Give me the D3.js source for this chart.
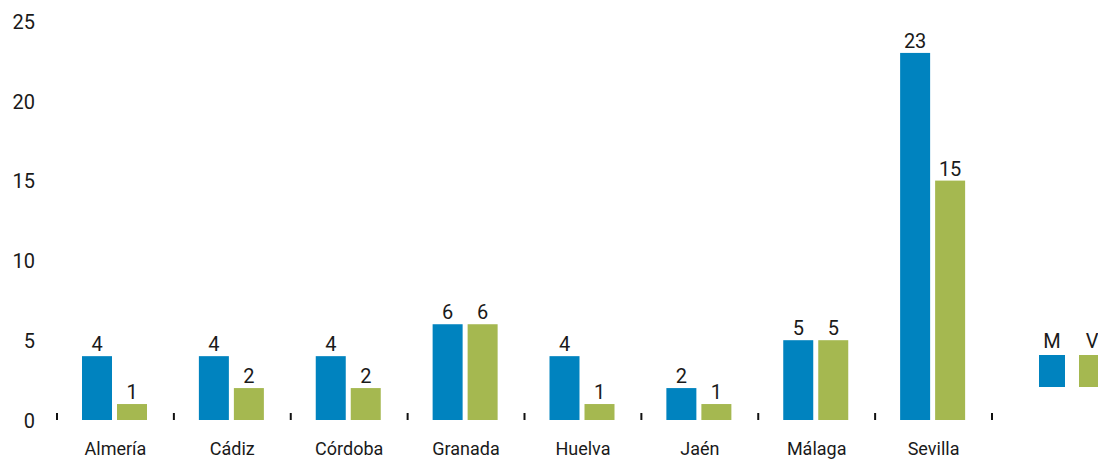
<!DOCTYPE html>
<html>
<head>
<meta charset="utf-8">
<script src="https://cdn.jsdelivr.net/npm/d3@7"></script>
<style>
  html, body { margin: 0; padding: 0; background: #fff; }
  svg { display: block; font-family: Roboto, "Noto Sans", sans-serif; }
</style>
</head>
<body>
<svg id="chart" width="1098" height="460"></svg>
<script>
// Provinces and counts per series
const categories = ["Almería", "Cádiz", "Córdoba", "Granada", "Huelva", "Jaén", "Málaga", "Sevilla"];
const seriesNames = ["M", "V"];
const valuesM = [4, 4, 4, 6, 4, 2, 5, 23];
const valuesV = [1, 2, 2, 6, 1, 1, 5, 15];
const yTicks = [0, 5, 10, 15, 20, 25];
const colors = ["#0083BF", "#A5B850"];

const seriesValues = [valuesM, valuesV];
const svg = d3.select("#chart");
const textColor = "#1a1a1a";

const x0 = d3.scaleBand().domain(categories).range([57, 992]).padding(0);
const x1 = d3.scaleBand().domain(seriesNames).range([25, 90]).paddingInner(5 / 35).paddingOuter(0);
const y = d3.scaleLinear().domain([0, 25]).range([420, 21]);
const color = d3.scaleOrdinal().domain(seriesNames).range(colors);

// Y axis: labels only
const yAxis = d3.axisLeft(y).tickValues(yTicks).tickSize(0).tickPadding(0);
const yg = svg.append("g").attr("transform", "translate(35,0)").call(yAxis);
yg.select(".domain").remove();
yg.selectAll("text")
  .attr("fill", textColor)
  .style("font-size", "20px")
  .style("font-family", "Roboto, sans-serif")
  .attr("dy", "0.36em");

// X axis: small tick marks at the category boundaries
const boundaries = categories.map(c => x0(c)).concat([x0.range()[1]]);
svg.append("g").selectAll("line")
  .data(boundaries)
  .join("line")
  .attr("x1", d => d).attr("x2", d => d)
  .attr("y1", 413).attr("y2", 420)
  .attr("stroke", "#111").attr("stroke-width", 2);

// Category labels
svg.append("g").selectAll("text")
  .data(categories)
  .join("text")
  .attr("x", d => x0(d) + x0.bandwidth() / 2)
  .attr("y", 455)
  .attr("text-anchor", "middle")
  .attr("fill", textColor)
  .style("font-size", "18px")
  .text(d => d);

// Bars
const rows = categories.map((c, i) => ({
  cat: c,
  items: seriesNames.map((s, j) => ({ key: s, value: seriesValues[j][i] }))
}));

const groups = svg.append("g").selectAll("g")
  .data(rows)
  .join("g")
  .attr("transform", d => `translate(${x0(d.cat)},0)`);

groups.selectAll("rect")
  .data(d => d.items)
  .join("rect")
  .attr("x", d => x1(d.key))
  .attr("width", x1.bandwidth())
  .attr("y", d => y(d.value))
  .attr("height", d => y(0) - y(d.value))
  .attr("fill", d => color(d.key));

groups.selectAll("text.val")
  .data(d => d.items)
  .join("text")
  .attr("class", "val")
  .attr("x", d => x1(d.key) + x1.bandwidth() / 2)
  .attr("y", d => y(d.value) - 5)
  .attr("text-anchor", "middle")
  .attr("fill", textColor)
  .style("font-size", "20px")
  .text(d => d.value);

// Legend
const legend = svg.append("g").selectAll("g")
  .data(seriesNames)
  .join("g")
  .attr("transform", (d, i) => `translate(${1039 + i * 40},355)`);
legend.append("rect")
  .attr("width", 26).attr("height", 32)
  .attr("fill", d => color(d));
legend.append("text")
  .attr("x", 13).attr("y", -7)
  .attr("text-anchor", "middle")
  .attr("fill", textColor)
  .style("font-size", "20px")
  .text(d => d);
</script>
</body>
</html>
